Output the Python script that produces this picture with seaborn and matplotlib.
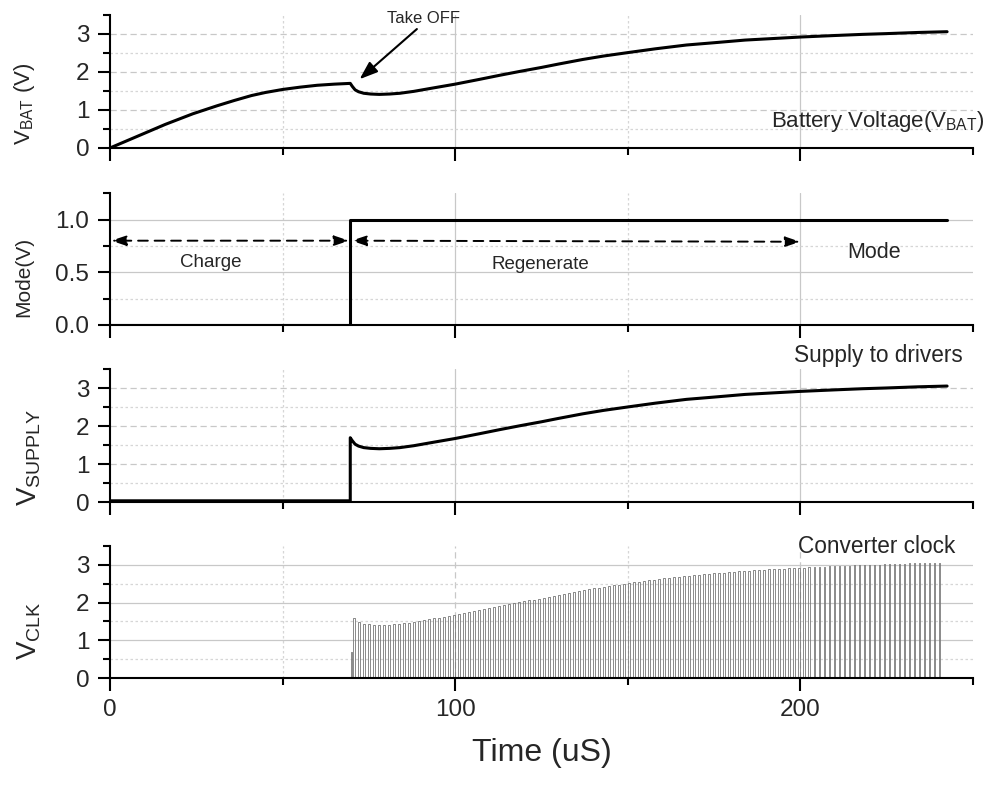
import numpy as np
import pandas as pd
import matplotlib
matplotlib.use("Agg")
import matplotlib.pyplot as plt
import seaborn as sns

# ---------------- data ----------------
bat_time = [0, 8, 16, 24, 31, 36, 41, 45, 50, 55, 60, 65, 69.6, 70.2, 71, 72, 73.5,
            75.5, 78, 81, 84, 88, 93, 100, 107, 113, 119, 125, 130, 137, 143, 150,
            158, 167, 175, 184, 192, 200, 210, 218, 225, 234, 242.5]
bat_volt = [0, 0.31, 0.62, 0.90, 1.11, 1.25, 1.38, 1.46, 1.54, 1.60, 1.65, 1.68, 1.70,
            1.62, 1.53, 1.48, 1.44, 1.42, 1.41, 1.42, 1.44, 1.49, 1.57, 1.68, 1.805,
            1.915, 2.02, 2.12, 2.21, 2.33, 2.42, 2.51, 2.61, 2.71, 2.77, 2.84, 2.88,
            2.92, 2.96, 2.99, 3.01, 3.04, 3.06]

mode_time = [0, 69.6, 69.6, 242.5]
mode_volt = [0, 0, 1.0, 1.0]

supply_time = [0, 69.6, 69.6, 70.2, 71, 72, 73.5, 75.5, 78, 81, 84, 88, 93, 100, 107,
               113, 119, 125, 130, 137, 143, 150, 158, 167, 175, 184, 192, 200, 210,
               218, 225, 234, 242.5]
supply_volt = [0.04, 0.04, 1.70, 1.62, 1.53, 1.48, 1.44, 1.42, 1.41, 1.42, 1.44, 1.49,
               1.57, 1.68, 1.805, 1.915, 2.02, 2.12, 2.21, 2.33, 2.42, 2.51, 2.61, 2.71,
               2.77, 2.84, 2.88, 2.92, 2.96, 2.99, 3.01, 3.04, 3.06]

clk_first_time = 69.8
clk_first_amp = 0.7
clk_start = 70.4
clk_end = 241.5
clk_period = 1.45
clk_width = 0.45

x_major = [0, 100, 200]
x_minor = [50, 150, 250]
x_ticklabels = ["0", "100", "200"]

# ---------------- style ----------------
sns.set_style("ticks")
plt.rcParams["font.family"] = ["Liberation Sans", "DejaVu Sans"]
plt.rcParams["mathtext.fontset"] = "custom"
plt.rcParams["mathtext.rm"] = "Liberation Sans"
plt.rcParams["mathtext.it"] = "Liberation Sans:italic"
plt.rcParams["mathtext.bf"] = "Liberation Sans:bold"

fig = plt.figure(figsize=(9.84, 7.85), dpi=100)
L, W = 0.1118, 0.877
ax1 = fig.add_axes([L, 0.8115, W, 0.1694])
ax2 = fig.add_axes([L, 0.5860, W, 0.1678])
ax3 = fig.add_axes([L, 0.3601, W, 0.1694])
ax4 = fig.add_axes([L, 0.1359, W, 0.1689])

GRID = "#c8c8c8"
GRID_MINOR = "#d6d6d6"


def style_axes(ax, ymax, ymajor, yminor, ytl, hdash, vdash, show_x):
    ax.set_xlim(0, 250)
    ax.set_ylim(0, ymax)
    for s in ["top", "right"]:
        ax.spines[s].set_visible(False)
    for s in ["left", "bottom"]:
        ax.spines[s].set_linewidth(1.5)
        ax.spines[s].set_color("black")
    ax.set_xticks(x_major)
    ax.set_xticks(x_minor, minor=True)
    ax.set_yticks(ymajor)
    ax.set_yticks(yminor, minor=True)
    ax.set_yticklabels(ytl)
    if show_x:
        ax.set_xticklabels(x_ticklabels)
    else:
        ax.set_xticklabels([])
    ax.tick_params(which="major", length=9, width=1.5, direction="out",
                   labelsize=17.5, pad=6, color="black")
    ax.tick_params(which="minor", length=5, width=1.5, direction="out", color="black")
    for xv in x_major[1:]:
        if vdash:
            ax.axvline(xv, color=GRID, lw=0.9, ls=(0, (5, 3)), zorder=0)
        else:
            ax.axvline(xv, color=GRID, lw=0.9, zorder=0)
    for xv in x_minor[:-1]:
        ax.axvline(xv, color=GRID_MINOR, lw=0.9, ls=(0, (2, 2)), zorder=0)
    for yv in ymajor[1:]:
        if hdash:
            ax.axhline(yv, color=GRID, lw=0.9, ls=(0, (5, 3)), zorder=0)
        else:
            ax.axhline(yv, color=GRID, lw=0.9, zorder=0)
    for yv in yminor:
        if 0 < yv < ymax - 1e-6:
            ax.axhline(yv, color=GRID_MINOR, lw=0.9, ls=(0, (2, 2)), zorder=0)


style_axes(ax1, 3.5, [0, 1, 2, 3], [0.5, 1.5, 2.5, 3.5], ["0", "1", "2", "3"], True, False, False)
style_axes(ax2, 1.25, [0, 0.5, 1.0], [0.25, 0.75, 1.25], ["0.0", "0.5", "1.0"], False, False, False)
style_axes(ax3, 3.5, [0, 1, 2, 3], [0.5, 1.5, 2.5, 3.5], ["0", "1", "2", "3"], True, False, False)
style_axes(ax4, 3.5, [0, 1, 2, 3], [0.5, 1.5, 2.5, 3.5], ["0", "1", "2", "3"], False, True, True)

# ---------------- panel 1: battery voltage ----------------
df_bat = pd.DataFrame({"t": bat_time, "v": bat_volt})
sns.lineplot(data=df_bat, x="t", y="v", ax=ax1, color="black", lw=2.2,
             sort=False, estimator=None)
ax1.set_xlabel("")
ax1.set_ylabel(r"$\mathrm{V}_{\mathrm{BAT}}$ (V)", fontsize=16)
ax1.yaxis.set_label_coords(-0.0846, 0.335)
ax1.text(191.6, 0.56, r"Battery Voltage($\mathrm{V}_{\mathrm{BAT}}$)", fontsize=16,
         ha="left", va="baseline")
ax1.annotate("", xy=(72.3, 1.81), xytext=(88.9, 3.13),
             arrowprops=dict(arrowstyle="-|>,head_length=0.55,head_width=0.2",
                             mutation_scale=20, color="black", lw=1.5,
                             shrinkA=0, shrinkB=0))
ax1.text(90.7, 3.29, "Take OFF", fontsize=12, ha="center", va="baseline")

# ---------------- panel 2: mode ----------------
df_mode = pd.DataFrame({"t": mode_time, "v": mode_volt})
sns.lineplot(data=df_mode, x="t", y="v", ax=ax2, color="black", lw=2.2,
             sort=False, estimator=None)
ax2.set_xlabel("")
ax2.set_ylabel("Mode(V)", fontsize=15)
ax2.yaxis.set_label_coords(-0.0892, 0.368)
arrow_kw = dict(arrowstyle="<|-|>,head_length=0.45,head_width=0.15",
                mutation_scale=20, color="black", lw=1.4, ls=(0, (5, 3.5)),
                shrinkA=0, shrinkB=0)
ax2.annotate("", xy=(0.3, 0.8), xytext=(69.3, 0.8), arrowprops=arrow_kw)
ax2.annotate("", xy=(69.9, 0.8), xytext=(200, 0.79), arrowprops=arrow_kw)
ax2.text(29.3, 0.549, "Charge", fontsize=13.5, ha="center", va="baseline")
ax2.text(124.6, 0.536, "Regenerate", fontsize=13.5, ha="center", va="baseline")
ax2.text(221.2, 0.634, "Mode", fontsize=15.5, ha="center", va="baseline")

# ---------------- panel 3: supply ----------------
df_sup = pd.DataFrame({"t": supply_time, "v": supply_volt})
sns.lineplot(data=df_sup, x="t", y="v", ax=ax3, color="black", lw=2.2,
             sort=False, estimator=None)
ax3.set_xlabel("")
ax3.set_ylabel(r"$\mathrm{V}_{\mathrm{SUPPLY}}$", fontsize=20)
ax3.yaxis.set_label_coords(-0.0776, 0.34)
ax3.text(247, 3.69, "Supply to drivers", fontsize=16.3, ha="right", va="baseline")

# ---------------- panel 4: converter clock ----------------
pulse_t = np.arange(clk_start, clk_end, clk_period)
pulse_a = np.interp(pulse_t, supply_time, supply_volt)
xs = [0, clk_first_time, clk_first_time, clk_first_time + 0.2, clk_first_time + 0.2]
ys = [0, 0, clk_first_amp, clk_first_amp, 0]
for t, a in zip(pulse_t, pulse_a):
    xs += [t, t, t + clk_width, t + clk_width]
    ys += [0, a, a, 0]
df_clk = pd.DataFrame({"t": xs, "v": ys})
sns.lineplot(data=df_clk, x="t", y="v", ax=ax4, color="#777777", lw=0.6,
             sort=False, estimator=None)
ax4.set_ylabel(r"$\mathrm{V}_{\mathrm{CLK}}$", fontsize=20)
ax4.yaxis.set_label_coords(-0.0776, 0.357)
ax4.set_xlabel("Time (uS)", fontsize=23, labelpad=12)
ax4.text(244.9, 3.32, "Converter clock", fontsize=16.3, ha="right", va="baseline")

fig.savefig("out.png", dpi=100)
